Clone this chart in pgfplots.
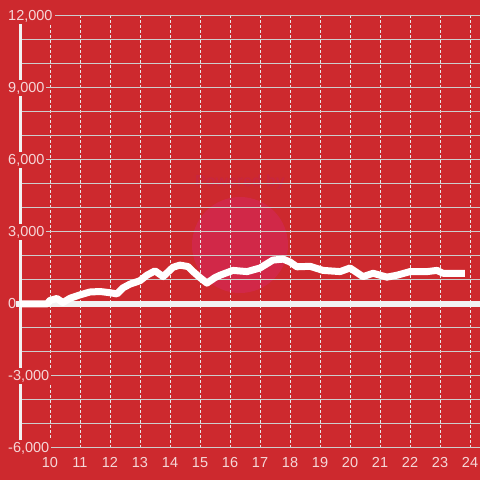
\documentclass[border=0pt]{standalone}
\usepackage{pgfplots}
\pgfplotsset{compat=1.18}
\usepackage{fontspec}
\setmainfont{Liberation Sans}
\definecolor{bg}{RGB}{205,41,46}
\definecolor{wm}{RGB}{209,40,72}
\definecolor{wmtext}{RGB}{200,38,62}
\definecolor{gridc}{RGB}{205,205,205}
\definecolor{vgc}{RGB}{232,232,232}
\definecolor{axc}{RGB}{242,242,242}
\definecolor{labc}{RGB}{245,215,216}
\pgfplotsset{layers/mylayers/.define layer set={axis background,axis grid,axis ticks,axis lines,pre main,main,axis tick labels,axis descriptions,axis foreground}{}}
\begin{document}
\begin{tikzpicture}
\fill[bg] (0,0) rectangle (480bp,480bp);
\fill[wm] (240bp,235bp) circle (48bp);
\node[text=wmtext, font=\fontsize{16bp}{18bp}\selectfont\bfseries] at (240bp,298bp) {Powered by};
\begin{axis}[
  at={(20bp,32bp)}, anchor=south west,
  scale only axis, width=460bp, height=432bp,
  xmin=9, xmax=24.3333, ymin=-6000, ymax=12000,
  set layers=mylayers,
  clip=false,
  scaled y ticks=false,
  axis x line*=bottom, axis y line*=left,
  x axis line style={draw=gridc, line width=1bp, -},
  y axis line style={draw=axc, line width=3bp, -},
  xtick={10,...,24}, ytick={-6000,-3000,...,12000},
  minor ytick={-5000,-4000,-2000,-1000,1000,2000,4000,5000,7000,8000,10000,11000},
  yticklabels={{-6,000},{-3,000},{0},{3,000},{6,000},{9,000},{12,000}},
  xmajorgrids, ymajorgrids, yminorgrids,
  major x grid style={draw=vgc, line width=1bp, dash pattern=on 3bp off 2bp},
  major y grid style={draw=gridc, line width=1bp},
  minor y grid style={draw=gridc, line width=1bp},
  major tick length=0pt, minor tick length=0pt,
  tick style={draw=none},
  tick label style={font=\fontsize{14.5bp}{17bp}\selectfont, text=labc},
  /pgf/number format/assume math mode=true,
  xticklabel style={inner sep=0pt, yshift=-9bp},
  yticklabel style={anchor=west, xshift=-14bp, inner sep=2bp, fill=bg},
]
\addplot[draw=axc, line width=5.5bp, forget plot] coordinates {(8.88,0) (24.3333,0)};
\addplot[white, line width=7bp, line join=round] coordinates {
(9.0,0) (9.9,0) (10.0,150) (10.23,230) (10.43,60) (10.67,240) (11.0,380)
(11.33,500) (11.67,520) (12.0,470) (12.23,420) (12.43,670) (12.67,830)
(13.0,970) (13.23,1200) (13.5,1380) (13.77,1140) (14.1,1530) (14.33,1620)
(14.6,1560) (14.77,1350) (15.0,1100) (15.23,870) (15.5,1100) (15.67,1200)
(16.1,1400) (16.57,1350) (17.0,1500) (17.43,1830) (17.77,1870) (18.0,1750)
(18.23,1550) (18.67,1570) (19.1,1400) (19.67,1350) (20.0,1500) (20.43,1140)
(20.77,1280) (21.23,1120) (21.57,1200) (22.0,1350) (22.57,1350) (22.9,1400)
(23.1,1280) (23.83,1280)};
\end{axis}
\pgfresetboundingbox
\path (0,0) rectangle (480bp,480bp);
\end{tikzpicture}
\end{document}
